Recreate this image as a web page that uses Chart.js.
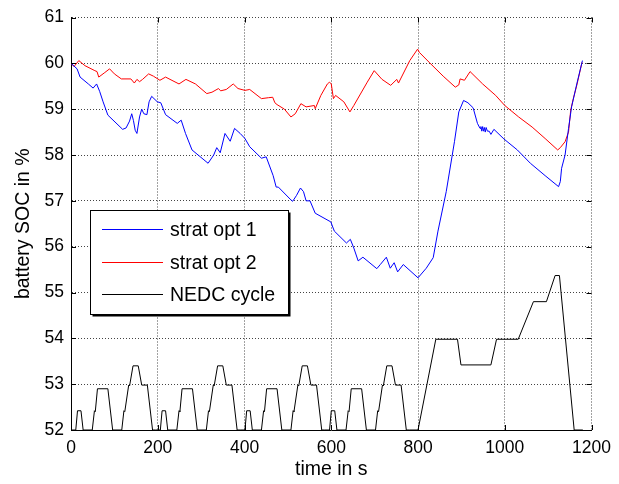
<!DOCTYPE html>
<html>
<head>
<meta charset="utf-8">
<script src="https://cdn.jsdelivr.net/npm/chart.js@4.4.1/dist/chart.umd.min.js"></script>
<style>
  html, body { margin: 0; padding: 0; background: #fff; }
  #wrap { width: 619px; height: 484px; }
</style>
</head>
<body>
<div id="wrap"><canvas id="c" width="619" height="484"></canvas></div>
<script>
// ---- data ----
const seriesLabels = ['strat opt 1', 'strat opt 2', 'NEDC cycle'];
const xTicks = [0, 200, 400, 600, 800, 1000, 1200];
const yTicks = [52, 53, 54, 55, 56, 57, 58, 59, 60, 61];

const opt1Time = [0,14,21,40,51,59,66,74,85,119,127,135,140,144,148,152,158,163,168,175,180,186,199,207,218,245,254,264,279,316,329,336,344,355,367,377,390,401,412,439,450,466,473,478,507,511,520,529,536,542,551,563,599,607,635,644,652,662,673,705,713,727,736,745,753,766,800,819,835,846,865,884,894,905,915,927,937,943,945,947,949,951,953,955,957,960,964,968,975,998,1029,1059,1093,1124,1128,1131,1139,1147,1154,1166,1179];
const opt1Soc = [60.0,59.88,59.70,59.55,59.46,59.55,59.39,59.16,58.87,58.56,58.59,58.74,58.90,58.75,58.54,58.47,58.83,59.00,58.90,58.88,59.16,59.28,59.16,59.14,58.88,58.69,58.76,58.47,58.11,57.82,58.00,58.16,58.05,58.47,58.30,58.58,58.47,58.36,58.18,57.93,57.96,57.55,57.30,57.30,57.02,56.99,57.12,57.28,57.20,57.00,57.00,56.73,56.54,56.34,56.08,56.16,55.97,55.69,55.77,55.52,55.61,55.77,55.53,55.65,55.45,55.61,55.32,55.53,55.76,56.34,57.20,58.29,58.94,59.19,59.14,59.03,58.69,58.58,58.62,58.52,58.62,58.52,58.60,58.50,58.60,58.52,58.52,58.45,58.56,58.35,58.11,57.82,57.55,57.31,57.42,57.71,58.00,58.58,59.05,59.55,60.06];

const opt2Time = [0,7,18,32,55,60,64,78,89,100,116,138,146,152,158,165,179,190,205,218,249,265,287,313,325,340,345,358,374,385,401,412,439,455,465,470,475,492,507,517,530,542,561,563,576,591,596,600,605,610,629,643,652,683,699,717,737,751,755,781,799,803,827,858,886,894,897,907,920,949,979,1000,1032,1063,1093,1122,1128,1139,1147,1152,1158,1166,1178];
const opt2Soc = [60.0,59.93,60.06,59.95,59.84,59.82,59.70,59.80,59.88,59.77,59.66,59.66,59.57,59.65,59.60,59.65,59.77,59.72,59.63,59.70,59.55,59.65,59.55,59.34,59.37,59.45,59.40,59.43,59.55,59.45,59.41,59.43,59.23,59.25,59.26,59.14,59.10,59.00,58.83,58.90,59.12,59.05,59.08,59.01,59.30,59.55,59.59,59.55,59.23,59.30,59.16,58.94,59.08,59.59,59.84,59.65,59.52,59.65,59.57,60.06,60.31,60.24,60.01,59.72,59.48,59.53,59.66,59.63,59.82,59.55,59.30,59.08,58.83,58.61,58.36,58.11,58.16,58.29,58.50,58.98,59.23,59.52,60.02];

const nedcTime = [
  0,11,15,23,28,49,54,56,61,85,96,117,122,124,133,135,143,155,163,176,188,
  195,206,210,218,223,244,249,251,256,280,291,312,317,319,328,330,338,350,358,371,383,
  390,401,405,413,418,439,444,446,451,475,486,507,512,514,523,525,533,545,553,566,578,
  585,596,600,608,613,634,639,641,646,670,681,702,707,709,718,720,728,740,748,761,773,
  780,800,841,891,899,968,981,1031,1066,1096,1116,1126,1160,1180];
const nedcValue = [
  52,52,52.42,52.42,52,52,52.42,52.40,52.90,52.90,52,52,52.42,52.40,52.98,52.96,53.40,53.40,52.98,52.98,52,
  52,52,52.42,52.42,52,52,52.42,52.40,52.90,52.90,52,52,52.42,52.40,52.98,52.96,53.40,53.40,52.98,52.98,52,
  52,52,52.42,52.42,52,52,52.42,52.40,52.90,52.90,52,52,52.42,52.40,52.98,52.96,53.40,53.40,52.98,52.98,52,
  52,52,52.42,52.42,52,52,52.42,52.40,52.90,52.90,52,52,52.42,52.40,52.98,52.96,53.40,53.40,52.98,52.98,52,
  52,52,53.98,53.98,53.42,53.42,53.98,53.98,54.80,54.80,55.37,55.37,52,52];

const seriesColors = ['#0000ff', '#ff0000', '#000000'];

function pts(xs, ys) { return xs.map((x, i) => ({ x: x, y: ys[i] })); }

const FONT = '"Liberation Sans", Arial, sans-serif';

const inwardTicks = {
  id: 'inwardTicks',
  afterDatasetsDraw(chart) {
    const { ctx, chartArea: a, scales: { x, y } } = chart;
    ctx.save();
    ctx.strokeStyle = '#000';
    ctx.lineWidth = 1;
    ctx.beginPath();
    xTicks.forEach(v => {
      const px = Math.round(x.getPixelForValue(v)) + 0.5;
      ctx.moveTo(px, a.bottom); ctx.lineTo(px, a.bottom - 5);
      ctx.moveTo(px, a.top); ctx.lineTo(px, a.top + 5);
    });
    yTicks.forEach(v => {
      const py = Math.round(y.getPixelForValue(v)) + 0.5;
      ctx.moveTo(a.left, py); ctx.lineTo(a.left + 5, py);
      ctx.moveTo(a.right, py); ctx.lineTo(a.right - 5, py);
    });
    ctx.stroke();
    ctx.restore();
  }
};

const boxLegend = {
  id: 'boxLegend',
  afterDraw(chart) {
    const ctx = chart.ctx;
    const L = 90.5, T = 210.5, R = 288.5, B = 314.5;
    ctx.save();
    ctx.fillStyle = '#fff';
    ctx.fillRect(L, T, R - L, B - T);
    ctx.strokeStyle = '#000';
    ctx.lineWidth = 1;
    ctx.strokeRect(L, T, R - L, B - T);
    // shadow
    ctx.lineWidth = 2;
    ctx.beginPath();
    ctx.moveTo(R + 1, T + 2); ctx.lineTo(R + 1, B + 1); ctx.lineTo(L + 2, B + 1);
    ctx.stroke();
    const rows = [229.5, 262.5, 294.5];
    ctx.font = '19.5px ' + FONT;
    ctx.textBaseline = 'middle';
    ctx.textAlign = 'left';
    chart.data.datasets.forEach((ds, i) => {
      ctx.strokeStyle = ds.borderColor;
      ctx.lineWidth = 1;
      ctx.beginPath();
      ctx.moveTo(102, rows[i]); ctx.lineTo(163, rows[i]);
      ctx.stroke();
      ctx.fillStyle = '#000';
      ctx.fillText(ds.label, 170, rows[i] + 1);
    });
    ctx.restore();
  }
};

new Chart(document.getElementById('c'), {
  type: 'line',
  data: {
    datasets: [
      { label: seriesLabels[0], data: pts(opt1Time, opt1Soc), borderColor: seriesColors[0] },
      { label: seriesLabels[1], data: pts(opt2Time, opt2Soc), borderColor: seriesColors[1] },
      { label: seriesLabels[2], data: pts(nedcTime, nedcValue), borderColor: seriesColors[2] }
    ]
  },
  options: {
    responsive: false,
    animation: false,
    devicePixelRatio: 1,
    elements: {
      point: { radius: 0 },
      line: { borderWidth: 1, tension: 0, fill: false }
    },
    layout: { padding: { left: 0, top: 15, right: 22, bottom: 0 } },
    plugins: { legend: { display: false }, tooltip: { enabled: false } },
    scales: {
      x: {
        type: 'linear', min: 0, max: 1200,
        afterFit(s) { s.height = 54; },
        afterBuildTicks(s) { s.ticks = xTicks.map(v => ({ value: v })); },
        ticks: { color: '#000', font: { family: FONT, size: 17.5 }, padding: 8, maxRotation: 0, callback: v => String(v) },
        grid: { color: '#444', lineWidth: 1, drawTicks: false },
        border: { display: true, color: '#000', width: 1, dash: [1, 2] },
        title: { display: true, text: 'time in s', color: '#000', font: { family: FONT, size: 19.5 }, padding: { top: 0, bottom: 3 } }
      },
      y: {
        type: 'linear', min: 52, max: 61,
        afterFit(s) { s.width = 71; },
        afterBuildTicks(s) { s.ticks = yTicks.map(v => ({ value: v })); },
        ticks: { color: '#000', font: { family: FONT, size: 17.5 }, padding: 7, callback: v => String(v) },
        grid: { color: '#444', lineWidth: 1, drawTicks: false },
        border: { display: true, color: '#000', width: 1, dash: [1, 2] },
        title: { display: true, text: 'battery SOC in %', color: '#000', font: { family: FONT, size: 19.5 }, padding: { top: 12, bottom: 0 } }
      }
    }
  },
  plugins: [inwardTicks, boxLegend]
});
</script>
</body>
</html>
